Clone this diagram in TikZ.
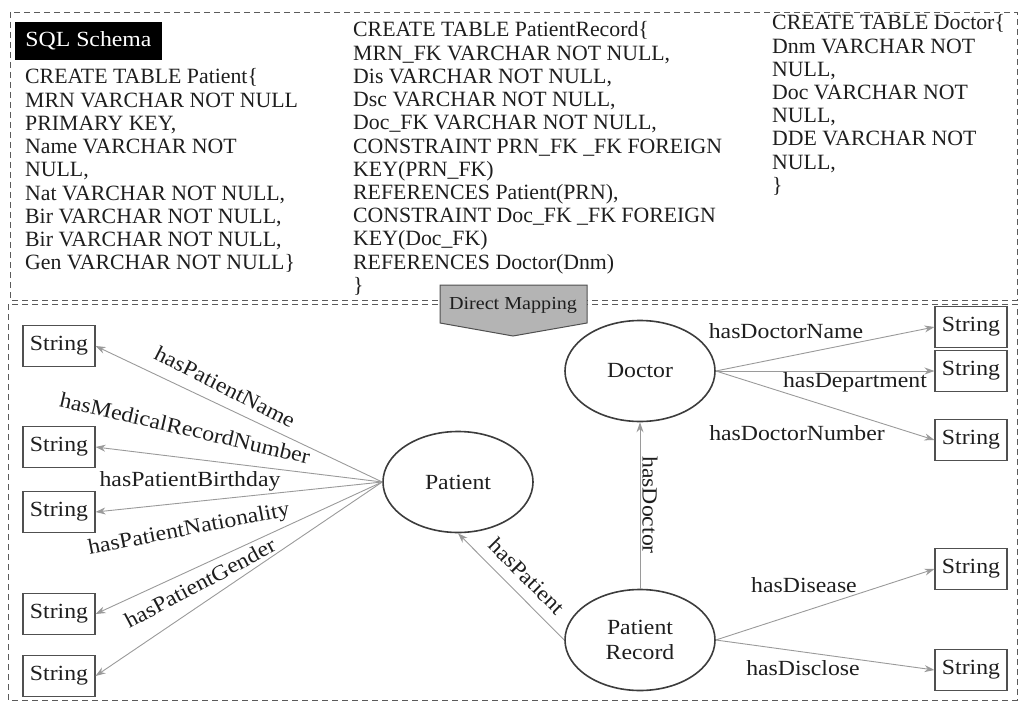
\documentclass[tikz,border=0pt]{standalone}
\usepackage{fontspec}
\setmainfont{Liberation Serif}[FakeStretch=1.1]
\newfontfamily\sqlfont{Liberation Serif}
\usetikzlibrary{shapes.geometric,arrows.meta}
\definecolor{txt}{HTML}{1E1E1E}
\definecolor{edgec}{HTML}{9A9A9A}
\definecolor{ellc}{HTML}{3C3C3C}
\definecolor{boxc}{HTML}{505050}
\definecolor{dashc}{HTML}{5A5A5A}
\definecolor{dmfill}{HTML}{B4B4B4}
\tikzset{
  sqltext/.style={anchor=base west, align=left, inner sep=0pt, text=txt,
    font=\sqlfont\fontsize{21.8}{23.2}\selectfont},
  lab/.style={inner sep=0pt, text=txt, font=\fontsize{21.6}{23.2}\selectfont},
  strbox/.style={draw=boxc, line width=1.1pt, minimum width=72pt, minimum height=41pt,
    inner sep=0pt, text=txt, font=\fontsize{21.6}{23.2}\selectfont},
  cls/.style={ellipse, draw=ellc, line width=1.6pt, minimum width=150pt, minimum height=101pt,
    inner sep=0pt, align=center, text=txt, font=\fontsize{21.6}{25}\selectfont},
  edge/.style={draw=edgec, line width=0.9pt, -{Stealth[length=10pt,width=7pt]}, edgec},
  frame/.style={draw=dashc, line width=0.9pt, dash pattern=on 6pt off 4pt},
}
\begin{document}
\begin{tikzpicture}[x=1pt,y=-1pt]
\useasboundingbox (0,0) rectangle (1024,711);
% frames
\draw[frame] (10,12) rectangle (1017,300);
\draw[frame] (8,304) rectangle (1017,700);

% SQL Schema label
\node[fill=black, text=white, minimum width=147pt, minimum height=38pt, inner sep=0pt,
  font=\fontsize{21.6}{23.2}\selectfont] (schema) at (88.5,41) {SQL Schema};

% (base anchor = baseline of the last line)
\node[sqltext] (t1) at (25,269.6) {CREATE TABLE Patient\{\\
MRN VARCHAR NOT NULL\\
PRIMARY KEY,\\
Name VARCHAR NOT\\
NULL,\\
Nat VARCHAR NOT NULL,\\
Bir VARCHAR NOT NULL,\\
Bir VARCHAR NOT NULL,\\
Gen VARCHAR NOT NULL\}};

\node[sqltext] (t2) at (353,292.2) {CREATE TABLE PatientRecord\{\\
MRN\_FK VARCHAR NOT NULL,\\
Dis VARCHAR NOT NULL,\\
Dsc VARCHAR NOT NULL,\\
Doc\_FK VARCHAR NOT NULL,\\
CONSTRAINT PRN\_FK \_FK FOREIGN\\
KEY(PRN\_FK)\\
REFERENCES Patient(PRN),\\
CONSTRAINT Doc\_FK \_FK FOREIGN\\
KEY(Doc\_FK)\\
REFERENCES Doctor(Dnm)\\
\}};

\node[sqltext] (t3) at (772,192.4) {CREATE TABLE Doctor\{\\
Dnm VARCHAR NOT\\
NULL,\\
Doc VARCHAR NOT\\
NULL,\\
DDE VARCHAR NOT\\
NULL,\\
\}};

% Direct Mapping
\draw[draw=boxc, line width=1pt, fill=dmfill] (440,285) -- (587,285) -- (587,323) -- (513,336) -- (440,323) -- cycle;
\node[inner sep=0pt, text=txt, font=\fontsize{18.3}{20}\selectfont] (dm) at (513,305) {Direct Mapping};

% classes
\node[cls] (pat) at (458,482) {Patient};
\node[cls] (doc) at (640,371) {Doctor};
\node[cls] (pr) at (640,640) {Patient\\Record};

% string boxes left
\node[strbox] (sl1) at (59,346) {String};
\node[strbox] (sl2) at (59,447) {String};
\node[strbox] (sl3) at (59,512) {String};
\node[strbox] (sl4) at (59,614) {String};
\node[strbox] (sl5) at (59,676) {String};
% string boxes right
\node[strbox] (sr1) at (971,327) {String};
\node[strbox] (sr2) at (971,371) {String};
\node[strbox] (sr3) at (971,440) {String};
\node[strbox] (sr4) at (971,569) {String};
\node[strbox] (sr5) at (971,670) {String};

% edges
\draw[edge] (pat.west) -- (sl1.east);
\draw[edge] (pat.west) -- (sl2.east);
\draw[edge] (pat.west) -- (sl3.east);
\draw[edge] (pat.west) -- (sl4.east);
\draw[edge] (pat.west) -- (sl5.east);
\draw[edge] (doc.east) -- (sr1.west);
\draw[edge] (doc.east) -- (sr2.west);
\draw[edge] (doc.east) -- (sr3.west);
\draw[edge] (pr.east) -- (sr4.west);
\draw[edge] (pr.east) -- (sr5.west);
\draw[edge] (pr.north) -- (doc.south);
\draw[edge] (pr.west) -- (pat.south);

% labels
\node[lab, rotate=-27] (lpn) at (225,387) {hasPatientName};
\node[lab, rotate=-13] (lmrn) at (185,428) {hasMedicalRecordNumber};
\node[lab] (lpb) at (190,481) {hasPatientBirthday};
\node[lab, rotate=11] (lpnat) at (189,530) {hasPatientNationality};
\node[lab, rotate=28] (lpg) at (200,583) {hasPatientGender};
\node[lab] (ldn) at (786,331) {hasDoctorName};
\node[lab] (ldep) at (855,382) {hasDepartment};
\node[lab] (ldnum) at (797,433) {hasDoctorNumber};
\node[lab] (ldis) at (804,585) {hasDisease};
\node[lab] (ldisc) at (803,668) {hasDisclose};
\node[lab, rotate=-90] (ldoc) at (650,505) {hasDoctor};
\node[lab, rotate=-45] (lpat) at (527,576) {hasPatient};
\end{tikzpicture}
\end{document}
